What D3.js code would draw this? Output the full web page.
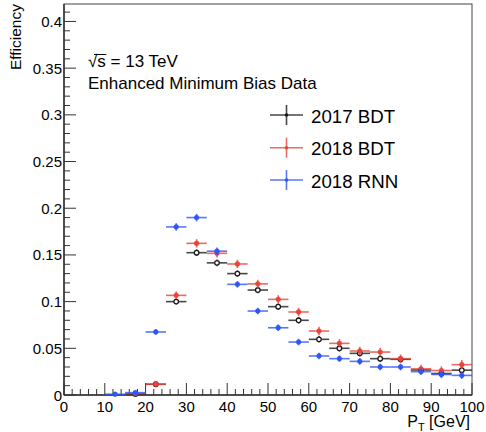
<!DOCTYPE html>
<html>
<head>
<meta charset="utf-8">
<script src="https://cdn.jsdelivr.net/npm/d3@7"></script>
<style>
  html, body { margin: 0; padding: 0; background: #fff; }
  svg text { font-family: "Liberation Sans", Arial, Helvetica, sans-serif; fill: #000; }
</style>
</head>
<body>
<svg id="chart" width="486" height="432"></svg>
<script>
// Bin lower edges in GeV (5 GeV wide bins)
const binLow = [10, 15, 20, 25, 30, 35, 40, 45, 50, 55, 60, 65, 70, 75, 80, 85, 90, 95];
const binWidth = 5;

// Efficiency per bin for each tagger (null = no entry)
const eff2017BDT = [null, 0.0010, 0.0115, 0.1000, 0.1524, 0.1415, 0.1300, 0.1124, 0.0946, 0.0800, 0.0596, 0.0500, 0.0446, 0.0389, 0.0382, 0.0268, 0.0230, 0.0266];
const err2017BDT = [null, 0.0008, 0.0015, 0.0030, 0.0035, 0.0035, 0.0035, 0.0035, 0.0035, 0.0035, 0.0035, 0.0035, 0.0035, 0.0035, 0.0035, 0.0035, 0.0035, 0.0035];

const eff2018BDT = [null, 0.0015, 0.0115, 0.1067, 0.1624, 0.1517, 0.1403, 0.1190, 0.1024, 0.0889, 0.0685, 0.0553, 0.0471, 0.0460, 0.0389, 0.0280, 0.0262, 0.0325];
const err2018BDT = [null, 0.0010, 0.0015, 0.0040, 0.0045, 0.0045, 0.0045, 0.0045, 0.0045, 0.0045, 0.0045, 0.0045, 0.0045, 0.0045, 0.0045, 0.0045, 0.0045, 0.0050];

const eff2018RNN = [0.0008, 0.0025, 0.0675, 0.1800, 0.1900, 0.1540, 0.1185, 0.0899, 0.0720, 0.0567, 0.0418, 0.0389, 0.0360, 0.0300, 0.0300, 0.0250, 0.0220, 0.0210];
const err2018RNN = [0.0006, 0.0010, 0.0030, 0.0040, 0.0040, 0.0040, 0.0035, 0.0035, 0.0035, 0.0035, 0.0035, 0.0035, 0.0035, 0.0035, 0.0035, 0.0035, 0.0040, 0.0040];

const seriesNames = ["2017 BDT", "2018 BDT", "2018 RNN"];
const xTicks = [0, 10, 20, 30, 40, 50, 60, 70, 80, 90, 100];
const yTicks = [0, 0.05, 0.1, 0.15, 0.2, 0.25, 0.3, 0.35, 0.4];
const yTickLabels = ["0", "0.05", "0.1", "0.15", "0.2", "0.25", "0.3", "0.35", "0.4"];

(function () {
  const series = [
    { name: seriesNames[0], eff: eff2017BDT, err: err2017BDT, color: "#1a1a1a", open: true },
    { name: seriesNames[1], eff: eff2018BDT, err: err2018BDT, color: "#e8443a", open: false },
    { name: seriesNames[2], eff: eff2018RNN, err: err2018RNN, color: "#2e55f5", open: false }
  ];

  const svg = d3.select("#chart");
  const padL = 64, padR = 472, padB = 395, padT = 4;
  const yMax = 0.4187;

  const x = d3.scaleLinear().domain([0, 100]).range([padL, padR]);
  const y = d3.scaleLinear().domain([0, yMax]).range([padB, padT]);

  // Frame
  svg.append("rect")
    .attr("x", padL).attr("y", padT)
    .attr("width", padR - padL).attr("height", padB - padT)
    .attr("fill", "none").attr("stroke", "#444").attr("stroke-width", 1);

  // Ticks drawn inward, ROOT-style
  const xMinor = d3.range(0, 100.001, 2);
  svg.append("g").selectAll("line").data(xMinor).join("line")
    .attr("x1", d => x(d)).attr("x2", d => x(d))
    .attr("y1", padB).attr("y2", (d, i) => padB - (i % 5 === 0 ? 12 : 6))
    .attr("stroke", "#333").attr("stroke-width", 1);

  const yMinor = d3.range(0, 0.4101, 0.01);
  svg.append("g").selectAll("line").data(yMinor).join("line")
    .attr("x1", padL).attr("x2", (d, i) => padL + (i % 5 === 0 ? 12 : 6))
    .attr("y1", d => y(d)).attr("y2", d => y(d))
    .attr("stroke", "#333").attr("stroke-width", 1);

  // Axis lines
  svg.append("line").attr("x1", padL).attr("x2", padR).attr("y1", padB).attr("y2", padB)
    .attr("stroke", "#333").attr("stroke-width", 1.5);
  svg.append("line").attr("x1", padL).attr("x2", padL).attr("y1", padT).attr("y2", padB)
    .attr("stroke", "#333").attr("stroke-width", 1.5);

  // Tick labels
  svg.append("g").selectAll("text").data(xTicks).join("text")
    .attr("x", d => x(d)).attr("y", 411.5)
    .attr("text-anchor", "middle").attr("font-size", 15)
    .text(d => d);

  svg.append("g").selectAll("text").data(yTicks).join("text")
    .attr("x", 62).attr("y", d => y(d) + 5.5)
    .attr("text-anchor", "end").attr("font-size", 15)
    .text((d, i) => yTickLabels[i]);

  // Axis titles
  svg.append("text")
    .attr("transform", "translate(21,4) rotate(-90)")
    .attr("text-anchor", "end").attr("font-size", 15.5)
    .text("Efficiency");

  const xt = svg.append("text")
    .attr("x", 470).attr("y", 427)
    .attr("text-anchor", "end").attr("font-size", 16);
  xt.append("tspan").text("P");
  xt.append("tspan").attr("font-size", 11).attr("dy", 4).text("T");
  xt.append("tspan").attr("dy", -4).text(" [GeV]");

  // Data points with bin-width and statistical error bars
  series.forEach(s => {
    const pts = binLow.map((lo, i) => ({ lo, hi: lo + binWidth, c: lo + binWidth / 2, v: s.eff[i], e: s.err[i] }))
      .filter(p => p.v !== null);
    const g = svg.append("g");
    g.selectAll(".h").data(pts).join("line").attr("class", "h")
      .attr("x1", p => x(p.lo)).attr("x2", p => x(p.hi))
      .attr("y1", p => y(p.v)).attr("y2", p => y(p.v))
      .attr("stroke", s.color).attr("stroke-width", 1.6).attr("stroke-opacity", 0.8);
    g.selectAll(".v").data(pts).join("line").attr("class", "v")
      .attr("x1", p => x(p.c)).attr("x2", p => x(p.c))
      .attr("y1", p => y(Math.max(0, p.v - p.e))).attr("y2", p => y(p.v + p.e))
      .attr("stroke", s.color).attr("stroke-width", 1.6).attr("stroke-opacity", 0.8);
    g.selectAll("circle").data(pts).join("circle")
      .attr("cx", p => x(p.c)).attr("cy", p => y(p.v))
      .attr("r", s.open ? 2.3 : 2.4)
      .attr("fill", s.open ? "#fff" : s.color)
      .attr("stroke", s.color).attr("stroke-width", s.open ? 1.3 : 0.5);
  });

  // Annotation
  const rs = svg.append("text").attr("x", 88).attr("y", 67).attr("font-size", 17).text("√s = 13 TeV");
  const node = rs.node();
  const r0 = node.getStartPositionOfChar(0);
  const s1 = node.getEndPositionOfChar(1);
  svg.append("line")
    .attr("x1", r0.x + 6).attr("x2", s1.x + 0.5)
    .attr("y1", 54.5).attr("y2", 54.5)
    .attr("stroke", "#000").attr("stroke-width", 1);

  svg.append("text").attr("x", 88).attr("y", 88.5).attr("font-size", 17).text("Enhanced Minimum Bias Data");

  // Legend
  const legY = [115, 147.7, 180];
  series.forEach((s, i) => {
    const g = svg.append("g");
    g.append("line").attr("x1", 270).attr("x2", 303).attr("y1", legY[i]).attr("y2", legY[i])
      .attr("stroke", s.color).attr("stroke-width", 1.6).attr("stroke-opacity", 0.8);
    g.append("line").attr("x1", 286.5).attr("x2", 286.5).attr("y1", legY[i] - 10).attr("y2", legY[i] + 10)
      .attr("stroke", s.color).attr("stroke-width", 1.6).attr("stroke-opacity", 0.8);
    g.append("circle").attr("cx", 286.5).attr("cy", legY[i]).attr("r", 1.8).attr("fill", s.color);
    g.append("text").attr("x", 311).attr("y", legY[i] + 7.5).attr("font-size", 18.7).text(s.name);
  });
})();
</script>
</body>
</html>
